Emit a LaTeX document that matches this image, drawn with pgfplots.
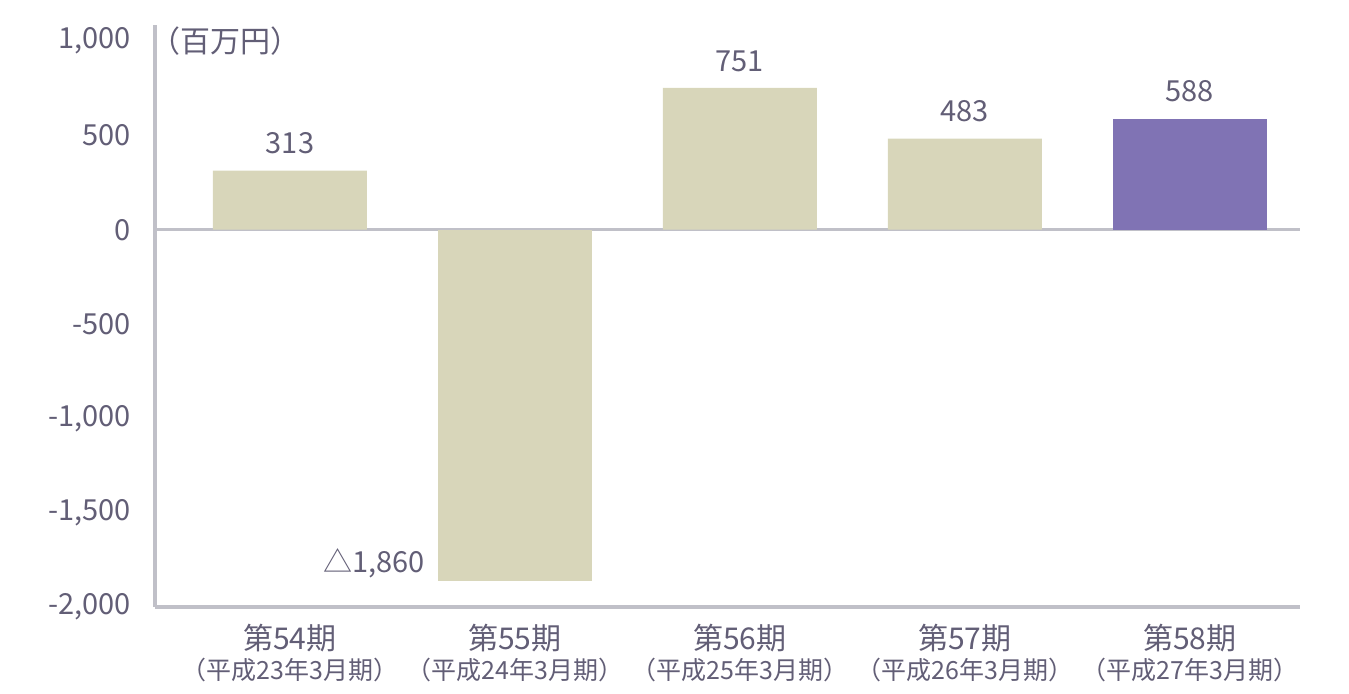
\documentclass[border=0pt]{standalone}
\usepackage{fontspec}
\setmainfont{Noto Sans CJK JP}
\usepackage{pgfplots}
\pgfplotsset{compat=1.18}
\definecolor{beige}{RGB}{216,214,186}
\definecolor{purp}{RGB}{128,115,180}
\definecolor{txt}{RGB}{98,94,118}
\definecolor{axg}{RGB}{192,192,200}
\begin{document}
\begin{tikzpicture}
\begin{axis}[
  at={(77.5pt,43.5pt)}, anchor=south west,
  scale only axis, width=572.5pt, height=291pt,
  xmin=-0.6, xmax=4.49, ymin=-2000, ymax=1085,
  axis x line=bottom, axis y line=left,
  axis line style={-, axg, line width=1.6pt},
  major tick length=0pt,
  ytick={-2000,-1500,-1000,-500,0,500,1000},
  yticklabels={{-2,000},{-1,500},{-1,000},{-500},{0},{500},{1,000}},
  yticklabel style={font=\fontsize{14.5}{16}\selectfont, text=txt, anchor=east, inner sep=0pt, xshift=-12pt},
  xtick={0,1,2,3,4},
  xticklabels={
    {\fontsize{15}{17}\selectfont 第54期\\[3pt]\fontsize{12.5}{13}\selectfont （平成23年3月期）},
    {\fontsize{15}{17}\selectfont 第55期\\[3pt]\fontsize{12.5}{13}\selectfont （平成24年3月期）},
    {\fontsize{15}{17}\selectfont 第56期\\[3pt]\fontsize{12.5}{13}\selectfont （平成25年3月期）},
    {\fontsize{15}{17}\selectfont 第57期\\[3pt]\fontsize{12.5}{13}\selectfont （平成26年3月期）},
    {\fontsize{15}{17}\selectfont 第58期\\[3pt]\fontsize{12.5}{13}\selectfont （平成27年3月期）}},
  xticklabel style={text=txt, anchor=north, inner sep=0pt, yshift=-8.5pt, align=center},
  ybar, bar width=77pt,
  clip=false,
  point meta=explicit symbolic,
  nodes near coords style={font=\fontsize{14.5}{16}\selectfont, text=txt, inner sep=0pt},
]
\draw[axg, line width=1.6pt] (axis cs:-0.6,0) -- (axis cs:4.49,0);
\addplot[fill=beige, draw=none, bar shift=0pt,
  nodes near coords, nodes near coords style={anchor=south, yshift=8pt}]
  coordinates {(0,313) [313] (2,751) [751] (3,483) [483]};
\addplot[fill=beige, draw=none, bar shift=0pt,
  nodes near coords, nodes near coords style={anchor=south east, xshift=-45pt, yshift=1pt}]
  coordinates {(1,-1860) [△1,860]};
\addplot[fill=purp, draw=none, bar shift=0pt,
  nodes near coords, nodes near coords style={anchor=south, yshift=8pt}]
  coordinates {(4,588) [588]};
\node[anchor=west, text=txt, inner sep=0pt, font=\fontsize{15}{17}\selectfont] at (axis cs:-0.62,1000) {（百万円）};
\end{axis}
\pgfresetboundingbox
\path[use as bounding box] (0,0) rectangle (674.5pt,347pt);
\end{tikzpicture}
\end{document}
